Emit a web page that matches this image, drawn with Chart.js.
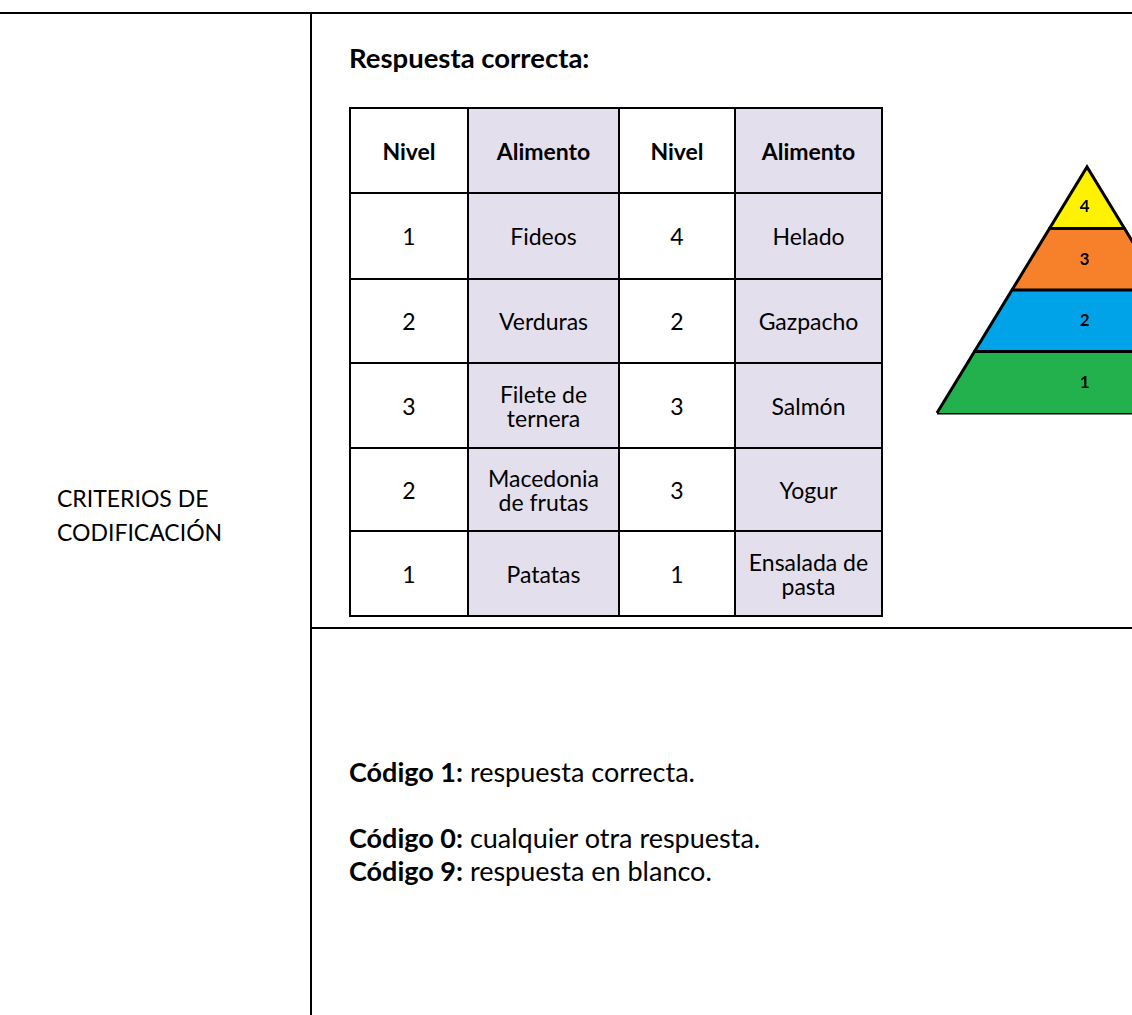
<!DOCTYPE html>
<html>
<head>
  <meta charset="UTF-8">
  <script src="https://cdn.jsdelivr.net/npm/chart.js"></script>
  <title>Criterios de codificación</title>
  <style>
    html, body { margin: 0; padding: 0; background: #fff; overflow: hidden; }
    body { width: 1132px; height: 1015px; position: relative; font-family: Lato, "Open Sans", sans-serif; color: #000; }
    .rule { position: absolute; background: #000; }
    .txt { position: absolute; white-space: nowrap; font-size: 27px; line-height: 1.2; }
    #tabla { position: absolute; left: 349px; top: 107px; width: 532px; table-layout: fixed; border-collapse: collapse; font-size: 23px; }
    #tabla td, #tabla th { border: 2px solid #000; text-align: center; vertical-align: middle; padding: 0 2px; line-height: 24px; white-space: pre-line; }
    #tabla th { font-weight: bold; }
    #tabla .ali { background: #e4dfec; }
    #pyr { position: absolute; left: 933px; top: 163px; width: 308px; height: 254px; }
  </style>
</head>
<body>
  <div class="rule" style="left:0;top:12px;width:1132px;height:2px"></div>
  <div class="rule" style="left:310px;top:12px;width:2px;height:1003px"></div>
  <div class="rule" style="left:310px;top:627px;width:822px;height:2px"></div>

  <div class="txt" style="left:349px;top:41px;font-size:27.5px;font-weight:bold">Respuesta correcta:</div>

  <table id="tabla"></table>

  <div class="txt" style="left:57px;top:485px;font-size:23px">CRITERIOS DE</div>
  <div class="txt" style="left:57px;top:519px;font-size:23px">CODIFICACIÓN</div>

  <div class="txt" style="left:349px;top:756px"><b>Código 1:</b> respuesta correcta.</div>
  <div class="txt" style="left:349px;top:822px"><b>Código 0:</b> cualquier otra respuesta.</div>
  <div class="txt" style="left:349px;top:855px"><b>Código 9:</b> respuesta en blanco.</div>

  <div id="pyr"><canvas id="pyramid" width="308" height="254"></canvas></div>

  <script>
    // tabla de respuestas
    const encabezado = ['Nivel', 'Alimento', 'Nivel', 'Alimento'];
    const nivelA = [1, 2, 3, 2, 1];
    const alimentoA = ['Fideos', 'Verduras', 'Filete de\nternera', 'Macedonia\nde frutas', 'Patatas'];
    const nivelB = [4, 2, 3, 3, 1];
    const alimentoB = ['Helado', 'Gazpacho', 'Salmón', 'Yogur', 'Ensalada de\npasta'];

    // pirámide: niveles y alturas (0 = base, 100 = vértice)
    const niveles = ['1', '2', '3', '4'];
    const alturaInferior = [0, 25, 50, 75];
    const alturaSuperior = [25, 50, 75, 100];

    const colores = ['#22b14c', '#00a2e8', '#f7812a', '#fff200'];
    const anchos = [118, 151, 116, 147];
    const altos = [85, 86, 84, 85, 83, 85];

    var tabla = document.getElementById('tabla');
    var cg = document.createElement('colgroup');
    anchos.forEach(function (w) {
      var c = document.createElement('col');
      c.style.width = w + 'px';
      cg.appendChild(c);
    });
    tabla.appendChild(cg);

    var fila = tabla.insertRow();
    fila.style.height = altos[0] + 'px';
    encabezado.forEach(function (t, i) {
      var th = document.createElement('th');
      th.textContent = t;
      if (i % 2 == 1) th.className = 'ali';
      fila.appendChild(th);
    });
    for (var r = 0; r < nivelA.length; r++) {
      fila = tabla.insertRow();
      fila.style.height = altos[r + 1] + 'px';
      [nivelA[r], alimentoA[r], nivelB[r], alimentoB[r]].forEach(function (t, i) {
        var td = fila.insertCell();
        td.textContent = t;
        if (i % 2 == 1) td.className = 'ali';
      });
    }

    // medio ancho de la pirámide a una altura dada (base = 1)
    function medio(h) { return (100 - h) / 100; }

    var datasets = niveles.map(function (nv, i) {
      var b = alturaInferior[i], t = alturaSuperior[i];
      return {
        label: 'Nivel ' + nv,
        data: [
          { x: -medio(b), y: b },
          { x: -medio(t), y: t },
          { x: medio(t), y: t },
          { x: medio(b), y: b }
        ],
        showLine: true,
        borderColor: '#000',
        borderWidth: 3,
        borderJoinStyle: 'miter',
        backgroundColor: colores[i],
        fill: { value: b },
        pointRadius: 0,
        tension: 0,
        clip: false
      };
    });
    // línea de la base
    datasets.push({
      label: 'base',
      data: [{ x: -medio(0), y: 0 }, { x: medio(0), y: 0 }],
      showLine: true,
      borderColor: '#000',
      borderWidth: 3,
      fill: false,
      pointRadius: 0,
      clip: false
    });

    var etiquetas = {
      id: 'etiquetas',
      afterDatasetsDraw: function (chart) {
        var ctx = chart.ctx, sx = chart.scales.x, sy = chart.scales.y;
        ctx.save();
        ctx.font = 'bold 17px Lato, sans-serif';
        ctx.fillStyle = '#000';
        ctx.textAlign = 'center';
        ctx.textBaseline = 'middle';
        niveles.forEach(function (nv, i) {
          var f = i == 3 ? 0.35 : 0.5;
          var yc = alturaInferior[i] + (alturaSuperior[i] - alturaInferior[i]) * f;
          ctx.fillText(nv, sx.getPixelForValue(-0.015), sy.getPixelForValue(yc));
        });
        ctx.restore();
      }
    };

    var ctx = document.getElementById('pyramid').getContext('2d');
    var chart = new Chart(ctx, {
      type: 'scatter',
      data: { datasets: datasets },
      options: {
        responsive: false,
        animation: false,
        devicePixelRatio: 1,
        layout: { padding: 4 },
        plugins: { legend: { display: false }, tooltip: { enabled: false } },
        scales: {
          x: { type: 'linear', min: -1, max: 1, display: false },
          y: { type: 'linear', min: 0, max: 100, display: false }
        }
      },
      plugins: [etiquetas]
    });
  </script>
</body>
</html>
